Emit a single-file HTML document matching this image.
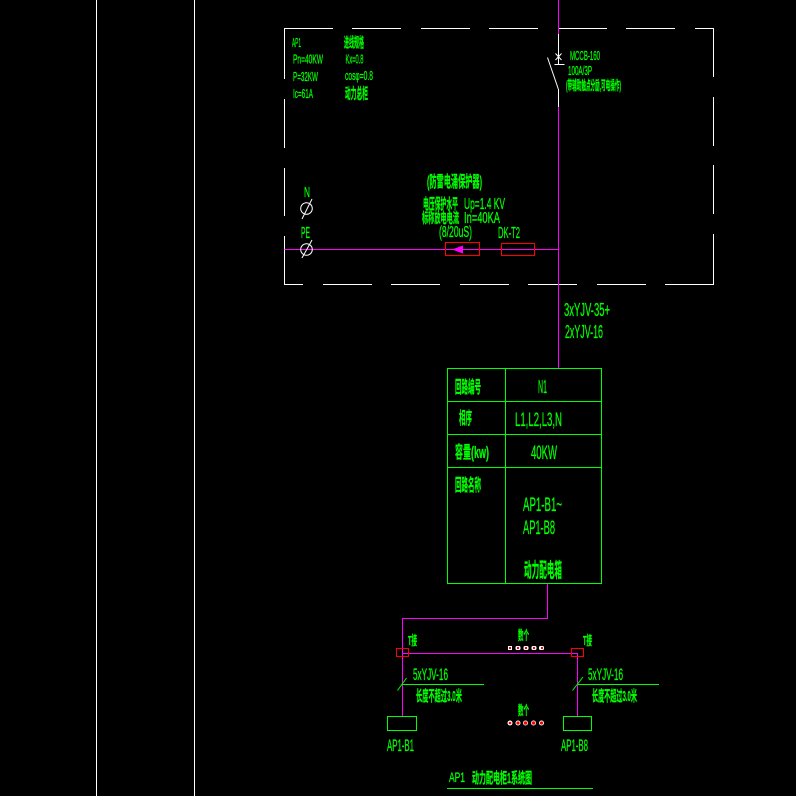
<!DOCTYPE html>
<html><head><meta charset="utf-8"><style>
html,body{margin:0;padding:0;background:#000;width:796px;height:796px;overflow:hidden}
svg{display:block}
text{fill:#00ff00;stroke:#00ff00;stroke-width:.3}
.l{font-family:"Liberation Sans",sans-serif}
.c{font-family:"Liberation Sans","Noto Sans CJK SC",sans-serif;font-weight:700}
</style></head><body>
<svg width="796" height="796" viewBox="0 0 796 796" xmlns="http://www.w3.org/2000/svg">
<rect width="796" height="796" fill="#000"/>
<g shape-rendering="crispEdges" fill="none" stroke-width="1">
<g stroke="#fff">
<path d="M96.5 0V796M194.5 0V796"/>
<path d="M284.5 79V28.5H333M352 28.5H401M421 28.5H470M489 28.5H538M558 28.5H607M626 28.5H675M695 28.5H713.5V77M713.5 97V146M713.5 165V214M713.5 234V284.5H665M646 284.5H597M577 284.5H528M509 284.5H460M440 284.5H391M372 284.5H323M303 284.5H284.5V236M284.5 216V168M284.5 148V99"/>
<path d="M558.5 34V64M558.5 89V107M554.5 64.5H564.5"/>
</g>
<g stroke="#ff00ff">
<path d="M558.5 0V34M558.5 107V368M284.5 249.5H558.5"/>
<path d="M547.5 584V618.5H402.5V716M402.5 653.5H577.5V716"/>
</g>
<g stroke="#ff0000">
<rect x="445.5" y="242.5" width="34" height="13"/>
<rect x="501.5" y="243.5" width="33" height="12"/>
<rect x="396.5" y="648.5" width="12" height="8"/>
<rect x="571.5" y="648.5" width="12" height="8"/>
</g>
<g stroke="#00ff00">
<path d="M447.5 368.5H601.5V583.5H447.5ZM505.5 368.5V583.5M447.5 401.5H601.5M447.5 434.5H601.5M447.5 467.5H601.5"/>
<rect x="387.5" y="716.5" width="29" height="14"/>
<rect x="563.5" y="716.5" width="28" height="14"/>
<path d="M402 684.5H484M578 684.5H659M447 788.5H593"/>
</g>
</g>
<g fill="none" stroke="#fff" stroke-width="1">
<path d="M547.5 57.5L558.3 89M555.5 53.5L561.5 60M561.5 53.5L555.5 60"/>
<circle cx="306.5" cy="208.5" r="5.8"/><path d="M302 219L312 199"/>
<circle cx="306.5" cy="249.5" r="5.8"/><path d="M302 258L312 240"/>
</g>
<path d="M452 249.5L463 245.5V253.5Z" fill="#ff00ff"/>
<path d="M397.5 690.5L406.5 678" stroke="#00ff00" fill="none"/>
<path d="M572.5 690.5L583 677" stroke="#00ff00" fill="none"/>
<g fill="#fff">
<rect x="508" y="646" width="4" height="4"/><rect x="515.5" y="646" width="5" height="4" rx="1.5"/><rect x="523.5" y="646" width="5" height="4" rx="1.5"/><rect x="531.5" y="646" width="5" height="4" rx="1.5"/><rect x="539" y="646" width="5" height="4" rx="1.5"/>
<circle cx="510" cy="723" r="2.5"/><circle cx="518" cy="723" r="2.5"/><circle cx="525.5" cy="723" r="2.5"/><circle cx="533.5" cy="723" r="2.5"/><circle cx="541.5" cy="723" r="2.5"/>
</g>
<g fill="#f00">
<rect x="509" y="647" width="2" height="2"/><rect x="517" y="647" width="2" height="2"/><rect x="525" y="647" width="2" height="2"/><rect x="533" y="647" width="2" height="2"/><rect x="541" y="647" width="2" height="2"/>
<circle cx="510" cy="723" r="1.3"/><circle cx="518" cy="723" r="1.6"/><circle cx="525.5" cy="723" r="1.8"/><circle cx="533.5" cy="723" r="1.8"/><circle cx="541.5" cy="723" r="1.6"/>
</g>

<g class="l">
<text x="292" y="47" font-size="13" textLength="9" lengthAdjust="spacingAndGlyphs">AP1</text>
<text x="293" y="63.5" font-size="12.5" textLength="30" lengthAdjust="spacingAndGlyphs">Pn=40KW</text>
<text x="345.5" y="63.5" font-size="12.5" textLength="18" lengthAdjust="spacingAndGlyphs">Kx=0.8</text>
<text x="293" y="81" font-size="12.5" textLength="25" lengthAdjust="spacingAndGlyphs">P=32KW</text>
<text x="345" y="80" font-size="12.5" textLength="28" lengthAdjust="spacingAndGlyphs">cosφ=0.8</text>
<text x="293" y="98" font-size="12.5" textLength="20" lengthAdjust="spacingAndGlyphs">Ic=61A</text>
<text x="570" y="60" font-size="12.5" textLength="30" lengthAdjust="spacingAndGlyphs">MCCB-160</text>
<text x="568" y="75" font-size="12.5" textLength="24" lengthAdjust="spacingAndGlyphs">100A/3P</text>
<text x="464" y="209" font-size="16" textLength="41" lengthAdjust="spacingAndGlyphs">Up=1.4 KV</text>
<text x="464" y="223" font-size="16" textLength="36" lengthAdjust="spacingAndGlyphs">In=40KA</text>
<text x="439" y="237" font-size="16" textLength="33" lengthAdjust="spacingAndGlyphs">(8/20uS)</text>
<text x="498" y="238" font-size="16" textLength="22" lengthAdjust="spacingAndGlyphs">DK-T2</text>
<text x="304" y="197" font-size="15" textLength="6" lengthAdjust="spacingAndGlyphs">N</text>
<text x="301" y="238" font-size="16" textLength="9" lengthAdjust="spacingAndGlyphs">PE</text>
<text x="564" y="316" font-size="18" textLength="46" lengthAdjust="spacingAndGlyphs">3xYJV-35+</text>
<text x="565" y="338" font-size="18" textLength="38" lengthAdjust="spacingAndGlyphs">2xYJV-16</text>
<text x="538" y="393" font-size="18" textLength="9" lengthAdjust="spacingAndGlyphs">N1</text>
<text x="515" y="426" font-size="19" textLength="47" lengthAdjust="spacingAndGlyphs">L1,L2,L3,N</text>
<text x="531" y="459" font-size="19" textLength="26" lengthAdjust="spacingAndGlyphs">40KW</text>
<text x="523" y="511" font-size="19" textLength="39" lengthAdjust="spacingAndGlyphs">AP1-B1~</text>
<text x="523" y="534" font-size="19" textLength="32" lengthAdjust="spacingAndGlyphs">AP1-B8</text>
<text x="413" y="680" font-size="16.5" textLength="35" lengthAdjust="spacingAndGlyphs">5xYJV-16</text>
<text x="588" y="680" font-size="16.5" textLength="35" lengthAdjust="spacingAndGlyphs">5xYJV-16</text>
<text x="387" y="751" font-size="16.5" textLength="27" lengthAdjust="spacingAndGlyphs">AP1-B1</text>
<text x="561" y="751" font-size="16.5" textLength="27" lengthAdjust="spacingAndGlyphs">AP1-B8</text>
<text x="449" y="782" font-size="14" textLength="16" lengthAdjust="spacingAndGlyphs">AP1</text>
</g>
<g class="c">
<text x="344" y="47.5" font-size="14" textLength="20" lengthAdjust="spacingAndGlyphs">进线规格</text>
<text x="345" y="98.5" font-size="15" textLength="23" lengthAdjust="spacingAndGlyphs">动力总柜</text>
<text x="566" y="90" font-size="13" textLength="55" lengthAdjust="spacingAndGlyphs">(带辅助触点分励,可电操作)</text>
<text x="427" y="187" font-size="16" textLength="55" lengthAdjust="spacingAndGlyphs">(防雷电涌保护器)</text>
<text x="423" y="209" font-size="15" textLength="35" lengthAdjust="spacingAndGlyphs">电压保护水平</text>
<text x="422" y="223" font-size="14" textLength="37" lengthAdjust="spacingAndGlyphs">标称放电电流</text>
<text x="455" y="393" font-size="17" textLength="26" lengthAdjust="spacingAndGlyphs">回路编号</text>
<text x="459" y="424" font-size="17" textLength="13" lengthAdjust="spacingAndGlyphs">相序</text>
<text x="455" y="458" font-size="17" textLength="16" lengthAdjust="spacingAndGlyphs">容量</text>
<text x="471" y="458" font-size="17" textLength="18" lengthAdjust="spacingAndGlyphs">(kw)</text>
<text x="455" y="491" font-size="17" textLength="26" lengthAdjust="spacingAndGlyphs">回路名称</text>
<text x="524" y="577" font-size="20" textLength="38" lengthAdjust="spacingAndGlyphs">动力配电箱</text>
<text x="408" y="645" font-size="13" textLength="9" lengthAdjust="spacingAndGlyphs">T接</text>
<text x="583" y="645" font-size="13" textLength="9" lengthAdjust="spacingAndGlyphs">T接</text>
<text x="518" y="640" font-size="13" textLength="11" lengthAdjust="spacingAndGlyphs">数个</text>
<text x="518" y="715" font-size="13" textLength="11" lengthAdjust="spacingAndGlyphs">数个</text>
<text x="416" y="701" font-size="15" textLength="46" lengthAdjust="spacingAndGlyphs">长度不超过3.0米</text>
<text x="592" y="701" font-size="15" textLength="45" lengthAdjust="spacingAndGlyphs">长度不超过3.0米</text>
<text x="472" y="783" font-size="15" textLength="60" lengthAdjust="spacingAndGlyphs">动力配电柜1系统图</text>
</g>
</svg>
</body></html>
